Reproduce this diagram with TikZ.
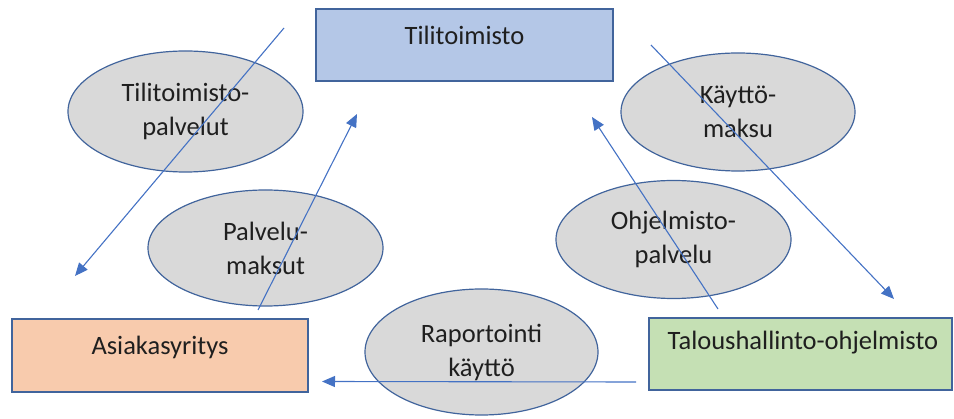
\documentclass[tikz,border=0pt]{standalone}
\usepackage{fontspec}
\setmainfont{Carlito}
\usetikzlibrary{shapes.geometric,arrows.meta}
\definecolor{boxblue}{HTML}{B4C7E7}
\definecolor{boxorange}{HTML}{F8CBAD}
\definecolor{boxgreen}{HTML}{C5E0B4}
\definecolor{edgeblue}{HTML}{41649C}
\definecolor{ellfill}{HTML}{D9D9D9}
\definecolor{arrowblue}{HTML}{4472C4}
\definecolor{txt}{HTML}{1F1F1F}
\tikzset{
  entity/.style={draw=edgeblue, line width=1.2pt, rectangle, inner sep=0pt},
  flow/.style={draw=edgeblue, line width=1.2pt, ellipse, fill=ellfill, inner sep=0pt,
    minimum width=235pt, minimum height=119pt, align=center, text=txt,
    font=\fontsize{26.5}{34}\selectfont},
  lbl/.style={text=txt, font=\fontsize{26.5}{34}\selectfont, inner sep=0pt},
  conn/.style={draw=arrowblue, line width=1.1pt, -{Triangle[length=13pt,width=11pt]}}
}
\begin{document}
\begin{tikzpicture}[x=1pt,y=-1pt]
\useasboundingbox (0,0) rectangle (954,419);
% boxes
\node[entity, fill=boxblue, minimum width=297pt, minimum height=72pt] (tili) at (464.5,45) {};
\node[entity, fill=boxorange, minimum width=296pt, minimum height=73pt] (asiakas) at (160,355.5) {};
\node[entity, fill=boxgreen, minimum width=303pt, minimum height=72pt] (talous) at (800.5,354) {};
\node[lbl] (tilit) at (464.5,35) {Tilitoimisto};
\node[lbl] (asiakast) at (160,347) {Asiakasyritys};
\node[lbl] (taloust) at (803,343) {Taloushallinto-ohjelmisto};
% ellipses
\node[flow, minimum height=121pt] (e1) at (185.5,111.5) {Tilitoimisto-\\palvelut};
\node[flow, minimum height=116pt] (e2) at (265.5,248) {Palvelu-\\maksut};
\node[flow, minimum width=233pt, minimum height=126pt] (e3) at (481.5,352) {Raportointi\\käyttö};
\node[flow, minimum height=118pt] (e4) at (673.5,239.5) {Ohjelmisto-\\palvelu};
\node[flow, minimum width=234pt, minimum height=118pt] (e5) at (738,112) {Käyttö-\\maksu};
% arrow end points
\coordinate (a1s) at (284,28);
\coordinate (a1e) at (75,276);
\coordinate (a2s) at (258,310);
\coordinate (a2e) at (357,114);
\coordinate (a3s) at (651,45);
\coordinate (a3e) at (894,299);
\coordinate (a4s) at (718,309);
\coordinate (a4e) at (592,117);
\coordinate (a5s) at (636,382);
\coordinate (a5e) at (322,381.5);
\draw[conn] (a1s) -- (a1e);
\draw[conn] (a2s) -- (a2e);
\draw[conn] (a3s) -- (a3e);
\draw[conn] (a4s) -- (a4e);
\draw[conn] (a5s) -- (a5e);
\end{tikzpicture}
\end{document}
